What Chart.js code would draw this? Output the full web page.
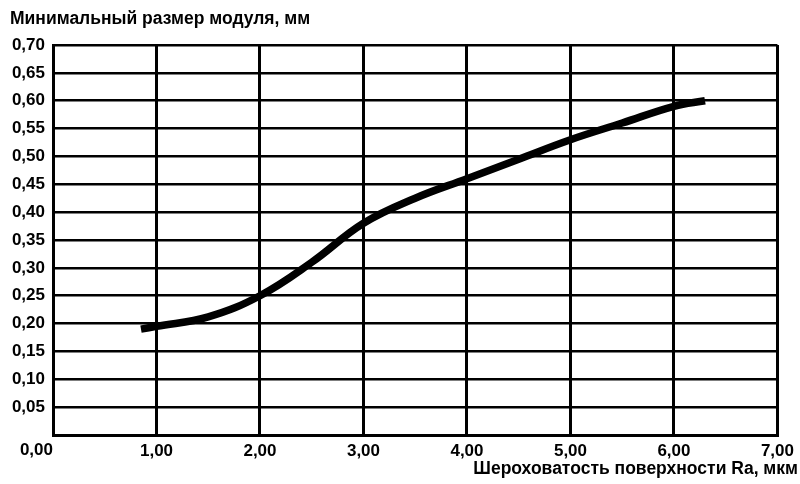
<!DOCTYPE html>
<html>
<head>
<meta charset="utf-8">
<script src="https://cdn.jsdelivr.net/npm/chart.js@4"></script>
<style>
  html, body { margin: 0; padding: 0; background: #fff; }
  #wrap { width: 800px; height: 484px; }
</style>
</head>
<body>
<div id="wrap"><canvas id="chart" width="800" height="484"></canvas></div>
<script>
// roughness Ra, um
const roughness = [0.85, 1.0, 1.5, 2.0, 2.5, 3.0, 3.5, 4.0, 4.5, 5.0, 5.5, 6.0, 6.3];
// minimal module size, mm
const moduleSize = [0.19, 0.195, 0.212, 0.25, 0.31, 0.38, 0.425, 0.46, 0.495, 0.53, 0.56, 0.59, 0.60];

const yTitle = "Минимальный размер модуля, мм";
const xTitle = "Шероховатость поверхности Ra, мкм";

const FONT = "'Liberation Sans', Arial, sans-serif";
const fmt = (v) => v.toFixed(2).replace(".", ",");

// the 0,00 label sits left of the origin in the original
const originLabel = {
  id: "originLabel",
  afterDraw(chart) {
    const xs = chart.scales.x;
    const ctx = chart.ctx;
    ctx.save();
    ctx.font = "bold 17px " + FONT;
    ctx.fillStyle = "#000";
    ctx.textAlign = "right";
    ctx.textBaseline = "middle";
    ctx.fillText(fmt(0), xs.getPixelForValue(0), chart.chartArea.bottom + 15);
    ctx.restore();
  }
};

new Chart(document.getElementById("chart"), {
  type: "line",
  data: {
    datasets: [{
      data: roughness.map((x, i) => ({ x: x, y: moduleSize[i] })),
      borderColor: "#000",
      borderWidth: 7.5,
      borderCapStyle: "butt",
      pointRadius: 0,
      tension: 0.4,
      fill: false,
    }],
  },
  options: {
    responsive: false,
    animation: false,
    layout: { padding: { left: 10, right: 2, top: 0, bottom: 0 } },
    plugins: {
      legend: { display: false },
      tooltip: { enabled: false },
      title: {
        display: true,
        text: yTitle,
        align: "start",
        color: "#000",
        font: { family: FONT, size: 17.5, weight: "bold" },
        padding: { top: 9, bottom: 15 },
      },
      subtitle: {
        display: true,
        position: "bottom",
        text: xTitle,
        align: "end",
        color: "#000",
        font: { family: FONT, size: 17.5, weight: "bold" },
        padding: { top: 0, bottom: 4 },
      },
    },
    scales: {
      x: {
        type: "linear",
        min: 0,
        max: 7,
        ticks: {
          stepSize: 1,
          color: "#000",
          padding: 6,
          font: { family: FONT, size: 17, weight: "bold" },
          callback: (v) => (v === 0 ? "" : fmt(v)),
          maxRotation: 0,
        },
        grid: { color: "#000", lineWidth: 3, drawTicks: false },
        border: { color: "#000", width: 3 },
        afterFit: (s) => { s.height = 24; },
      },
      y: {
        min: 0,
        max: 0.7,
        ticks: {
          stepSize: 0.05,
          color: "#000",
          padding: 8,
          font: { family: FONT, size: 17, weight: "bold" },
          callback: (v) => (Math.abs(v) < 1e-9 ? "" : fmt(v)),
        },
        grid: { color: "#000", lineWidth: 2.5, drawTicks: false },
        border: { color: "#000", width: 3 },
        afterFit: (s) => { s.width = 43; },
      },
    },
  },
  plugins: [originLabel],
});
</script>
</body>
</html>
